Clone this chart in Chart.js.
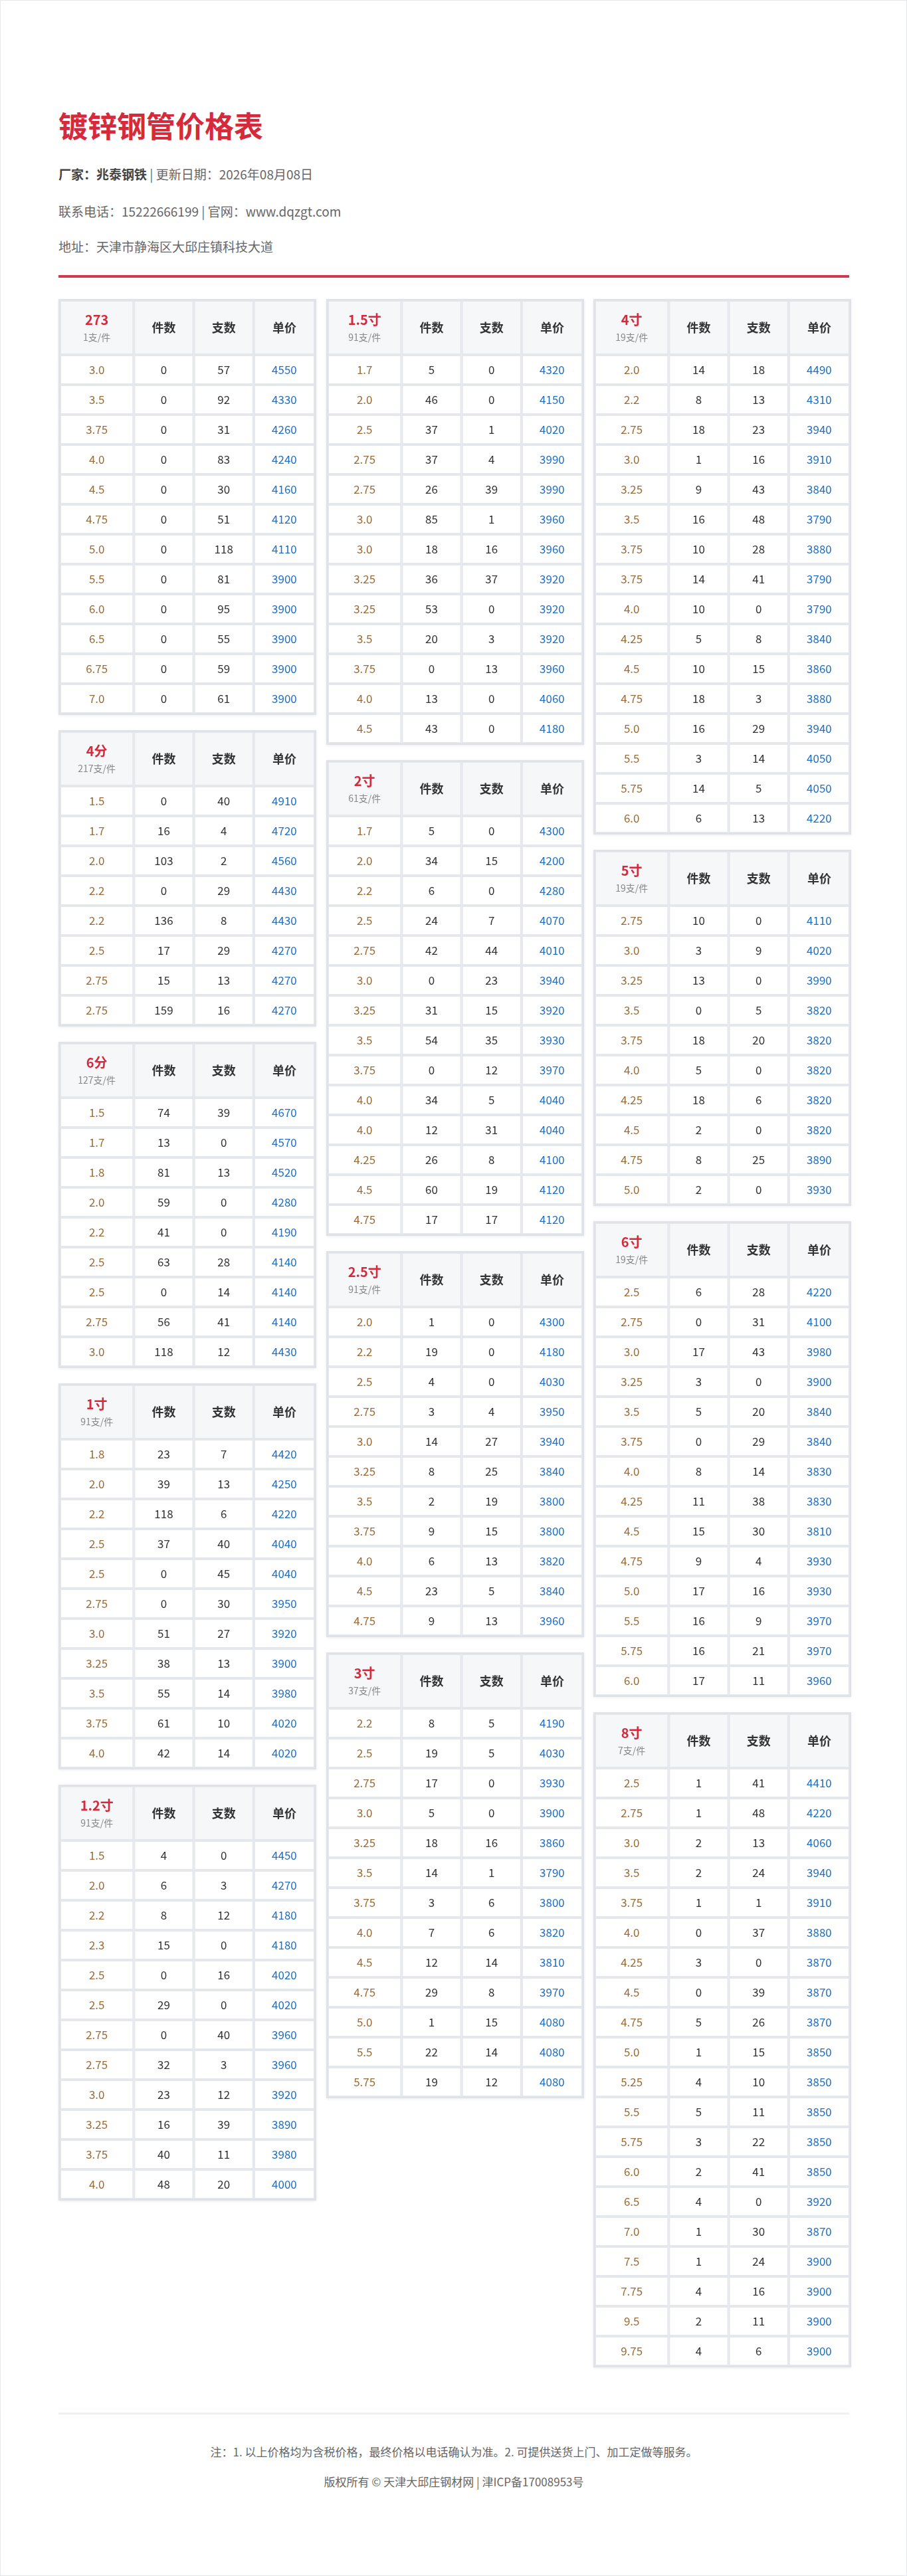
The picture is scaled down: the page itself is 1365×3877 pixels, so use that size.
<!DOCTYPE html>
<html><head><meta charset="utf-8">
<script src="https://cdn.jsdelivr.net/npm/chart.js@4/dist/chart.umd.min.js"></script>
<style>
html,body{margin:0;padding:0;background:#fff;}
body{font-family:"Noto Sans CJK SC","Noto Sans",sans-serif;}
#page{border:1px solid #e6e8eb;position:relative;box-sizing:border-box;width:1365px;height:3877px;}
#wrap{position:absolute;left:87px;width:1190px;top:0;}
h1{margin:0;position:absolute;top:158px;font-size:44px;color:#d42a3c;font-weight:bold;line-height:58px;white-space:nowrap;}
.info{position:absolute;font-size:19px;color:#666;white-space:nowrap;line-height:26px;}
.info b{color:#444;}
#redline{position:absolute;top:413px;left:0;width:1190px;height:4px;background:#d13a4a;}
#cols{position:absolute;top:449px;left:0;width:1193px;display:flex;justify-content:space-between;}
.col{width:388px;display:flex;flex-direction:column;gap:23px;}
.tbl{position:relative;width:388px;box-shadow:0 1px 4px rgba(0,0,0,0.08);}
#grey{position:absolute;top:3630px;left:0;width:1190px;height:3px;background:#eef0f2;}
.foot{position:absolute;left:0;width:1190px;text-align:center;font-size:17px;color:#666;}
</style></head><body>
<div id="page"><div id="wrap">
<h1>镀锌钢管价格表</h1>
<div class="info" style="top:248px"><b>厂家：兆泰钢铁</b> | 更新日期：2026年08月08日</div>
<div class="info" style="top:304px">联系电话：15222666199 | 官网：www.dqzgt.com</div>
<div class="info" style="top:357px">地址：天津市静海区大邱庄镇科技大道</div>
<div id="redline"></div>
<div id="cols"><div class="col" id="c0"></div><div class="col" id="c1"></div><div class="col" id="c2"></div></div>
<div id="grey"></div>
<div class="foot" style="top:3676px">注：1. 以上价格均为含税价格，最终价格以电话确认为准。2. 可提供送货上门、加工定做等服务。</div>
<div class="foot" style="top:3721px">版权所有 © 天津大邱庄钢材网 | 津ICP备17008953号</div>
</div></div>
<script>
const columnHeaders = ['件数','支数','单价'];
const names   = ['273','4分','6分','1寸','1.2寸','1.5寸','2寸','2.5寸','3寸','4寸','5寸','6寸','8寸'];
const perBundle = ['1支/件','217支/件','127支/件','91支/件','91支/件','91支/件','61支/件','91支/件','37支/件','19支/件','19支/件','19支/件','7支/件'];
const columnOf = [0,0,0,0,0,1,1,1,1,2,2,2,2];
const sizes = [
 ['3.0','3.5','3.75','4.0','4.5','4.75','5.0','5.5','6.0','6.5','6.75','7.0'],
 ['1.5','1.7','2.0','2.2','2.2','2.5','2.75','2.75'],
 ['1.5','1.7','1.8','2.0','2.2','2.5','2.5','2.75','3.0'],
 ['1.8','2.0','2.2','2.5','2.5','2.75','3.0','3.25','3.5','3.75','4.0'],
 ['1.5','2.0','2.2','2.3','2.5','2.5','2.75','2.75','3.0','3.25','3.75','4.0'],
 ['1.7','2.0','2.5','2.75','2.75','3.0','3.0','3.25','3.25','3.5','3.75','4.0','4.5'],
 ['1.7','2.0','2.2','2.5','2.75','3.0','3.25','3.5','3.75','4.0','4.0','4.25','4.5','4.75'],
 ['2.0','2.2','2.5','2.75','3.0','3.25','3.5','3.75','4.0','4.5','4.75'],
 ['2.2','2.5','2.75','3.0','3.25','3.5','3.75','4.0','4.5','4.75','5.0','5.5','5.75'],
 ['2.0','2.2','2.75','3.0','3.25','3.5','3.75','3.75','4.0','4.25','4.5','4.75','5.0','5.5','5.75','6.0'],
 ['2.75','3.0','3.25','3.5','3.75','4.0','4.25','4.5','4.75','5.0'],
 ['2.5','2.75','3.0','3.25','3.5','3.75','4.0','4.25','4.5','4.75','5.0','5.5','5.75','6.0'],
 ['2.5','2.75','3.0','3.5','3.75','4.0','4.25','4.5','4.75','5.0','5.25','5.5','5.75','6.0','6.5','7.0','7.5','7.75','9.5','9.75']
];
const pieces = [
 [0,0,0,0,0,0,0,0,0,0,0,0],
 [0,16,103,0,136,17,15,159],
 [74,13,81,59,41,63,0,56,118],
 [23,39,118,37,0,0,51,38,55,61,42],
 [4,6,8,15,0,29,0,32,23,16,40,48],
 [5,46,37,37,26,85,18,36,53,20,0,13,43],
 [5,34,6,24,42,0,31,54,0,34,12,26,60,17],
 [1,19,4,3,14,8,2,9,6,23,9],
 [8,19,17,5,18,14,3,7,12,29,1,22,19],
 [14,8,18,1,9,16,10,14,10,5,10,18,16,3,14,6],
 [10,3,13,0,18,5,18,2,8,2],
 [6,0,17,3,5,0,8,11,15,9,17,16,16,17],
 [1,1,2,2,1,0,3,0,5,1,4,5,3,2,4,1,1,4,2,4]
];
const counts = [
 [57,92,31,83,30,51,118,81,95,55,59,61],
 [40,4,2,29,8,29,13,16],
 [39,0,13,0,0,28,14,41,12],
 [7,13,6,40,45,30,27,13,14,10,14],
 [0,3,12,0,16,0,40,3,12,39,11,20],
 [0,0,1,4,39,1,16,37,0,3,13,0,0],
 [0,15,0,7,44,23,15,35,12,5,31,8,19,17],
 [0,0,0,4,27,25,19,15,13,5,13],
 [5,5,0,0,16,1,6,6,14,8,15,14,12],
 [18,13,23,16,43,48,28,41,0,8,15,3,29,14,5,13],
 [0,9,0,5,20,0,6,0,25,0],
 [28,31,43,0,20,29,14,38,30,4,16,9,21,11],
 [41,48,13,24,1,37,0,39,26,15,10,11,22,41,0,30,24,16,11,6]
];
const prices = [
 [4550,4330,4260,4240,4160,4120,4110,3900,3900,3900,3900,3900],
 [4910,4720,4560,4430,4430,4270,4270,4270],
 [4670,4570,4520,4280,4190,4140,4140,4140,4430],
 [4420,4250,4220,4040,4040,3950,3920,3900,3980,4020,4020],
 [4450,4270,4180,4180,4020,4020,3960,3960,3920,3890,3980,4000],
 [4320,4150,4020,3990,3990,3960,3960,3920,3920,3920,3960,4060,4180],
 [4300,4200,4280,4070,4010,3940,3920,3930,3970,4040,4040,4100,4120,4120],
 [4300,4180,4030,3950,3940,3840,3800,3800,3820,3840,3960],
 [4190,4030,3930,3900,3860,3790,3800,3820,3810,3970,4080,4080,4080],
 [4490,4310,3940,3910,3840,3790,3880,3790,3790,3840,3860,3880,3940,4050,4050,4220],
 [4110,4020,3990,3820,3820,3820,3820,3820,3890,3930],
 [4220,4100,3980,3900,3840,3840,3830,3830,3810,3930,3930,3970,3970,3960],
 [4410,4220,4060,3940,3910,3880,3870,3870,3870,3850,3850,3850,3850,3850,3920,3870,3900,3900,3900,3900]
];
const HEAD=82, ROW=45;
const FONT='"Noto Sans CJK SC","Noto Sans",sans-serif';
const colFrac=[0.29,0.235,0.235,0.24];

function makePlugin(t){return {id:'cells'+t,afterDraw(chart){
  const ctx=chart.ctx, ys=chart.scales.y, xs=chart.scales.x;
  const rows=sizes[t].length;
  const step=rows>1?(ys.getPixelForValue(1)-ys.getPixelForValue(0)):ROW;
  const top=ys.getPixelForValue(0)-step/2-HEAD, left=xs.left, right=xs.right, width=right-left;
  const bounds=[left]; let acc=left; colFrac.forEach(f=>{acc+=f*width;bounds.push(acc);});
  ctx.save();
  ctx.fillStyle='#fff';ctx.fillRect(0,0,chart.width,chart.height);
  ctx.fillStyle='#f6f7f9';ctx.fillRect(left,top,width,HEAD);
  ctx.strokeStyle='#e4e7eb';ctx.lineWidth=2;
  for(let c=0;c<4;c++){
    ctx.strokeRect(bounds[c]+1,top+1,bounds[c+1]-bounds[c]-2,HEAD-2);
    for(let r=0;r<rows;r++){
      const cy=ys.getPixelForValue(r);
      ctx.strokeRect(bounds[c]+1,cy-step/2+1,bounds[c+1]-bounds[c]-2,step-2);
    }
  }
  ctx.strokeStyle='#dfe2e6';ctx.lineWidth=3;ctx.strokeRect(left-1,top-1,width+2,HEAD+rows*step+2);
  ctx.textAlign='center';ctx.textBaseline='middle';
  const mid=c=>(bounds[c]+bounds[c+1])/2;
  ctx.fillStyle='#d42a3c';ctx.font='bold 20px '+FONT;ctx.fillText(names[t],mid(0),top+29);
  ctx.fillStyle='#888';ctx.font='14px '+FONT;ctx.fillText(perBundle[t],mid(0),top+56);
  ctx.fillStyle='#333';ctx.font='bold 18px '+FONT;
  columnHeaders.forEach((h,i)=>ctx.fillText(h,mid(i+1),top+HEAD/2));
  ctx.font='17px '+FONT;
  for(let r=0;r<rows;r++){
    const cy=ys.getPixelForValue(r);
    ctx.fillStyle='#9b6b35';ctx.fillText(sizes[t][r],mid(0),cy);
    ctx.fillStyle='#333';ctx.fillText(String(pieces[t][r]),mid(1),cy);ctx.fillText(String(counts[t][r]),mid(2),cy);
    ctx.fillStyle='#1f6fc2';ctx.fillText(String(prices[t][r]),mid(3),cy);
  }
  ctx.restore();
}};}

names.forEach((n,t)=>{
  const rows=sizes[t].length, h=HEAD+rows*ROW+4;
  const div=document.createElement('div');div.className='tbl';div.style.height=h+'px';
  const cv=document.createElement('canvas');div.appendChild(cv);
  document.getElementById('c'+columnOf[t]).appendChild(div);
  new Chart(cv,{type:'bar',
    data:{labels:sizes[t].map((s,i)=>i),datasets:[{data:prices[t],backgroundColor:'rgba(0,0,0,0)'}]},
    options:{indexAxis:'y',responsive:true,maintainAspectRatio:false,animation:false,devicePixelRatio:1,
      layout:{padding:{top:HEAD+2,left:2,right:2,bottom:2}},
      plugins:{legend:{display:false},tooltip:{enabled:false}},
      scales:{y:{type:'category',display:false,offset:true},x:{display:false,min:0,max:5000}}},
    plugins:[makePlugin(t)]});
});
</script></body></html>
